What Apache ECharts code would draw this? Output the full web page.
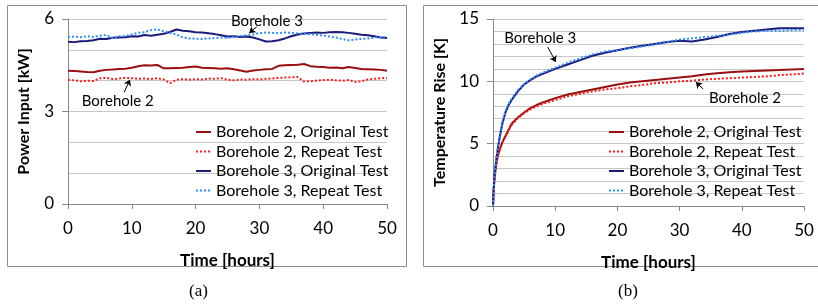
<!DOCTYPE html>
<html>
<head>
<meta charset="utf-8">
<script src="https://cdn.jsdelivr.net/npm/echarts@6/dist/echarts.min.js"></script>
<style>
html, body { margin: 0; padding: 0; background: #fff; }
#chart-container { width: 818px; height: 304px; }
</style>
</head>
<body>
<div id="chart-container"></div>
<script>
// legend names
var seriesNames = [
  'Borehole 2, Original Test', 'Borehole 2, Repeat Test',
  'Borehole 3, Original Test', 'Borehole 3, Repeat Test'
];

// (a) power input [kW], hourly readings
var hoursA = [0,1,2,3,4,5,6,7,8,9,10,11,12,13,14,15,16,17,18,19,20,21,22,23,24,25,
  26,27,28,29,30,31,32,33,34,35,36,37,38,39,40,41,42,43,44,45,46,47,48,49,50];
var bh2OrigPower = [4.32,4.31,4.30,4.28,4.27,4.32,4.35,4.36,4.38,4.39,4.42,4.47,4.50,4.49,4.51,4.40,
  4.40,4.41,4.42,4.44,4.46,4.42,4.41,4.40,4.39,4.40,4.37,4.33,4.29,4.33,4.35,4.37,4.38,4.48,4.50,4.51,
  4.52,4.54,4.47,4.45,4.44,4.42,4.43,4.40,4.44,4.41,4.38,4.37,4.36,4.35,4.32];
var bh2RepPower = [4.03,4.01,3.98,4.00,3.99,4.08,4.09,4.05,4.07,4.09,4.08,4.06,4.07,4.05,4.08,4.04,
  3.92,4.03,4.05,4.03,4.05,4.04,4.07,4.06,4.08,4.03,4.01,4.04,4.03,4.05,4.04,4.06,4.07,4.09,4.10,4.11,
  4.12,3.97,3.98,4.00,4.02,4.03,4.01,4.00,4.02,3.96,3.98,4.04,4.06,4.08,4.09];
var bh3OrigPower = [5.26,5.25,5.28,5.29,5.31,5.36,5.35,5.39,5.40,5.41,5.44,5.43,5.48,5.46,5.49,5.52,
  5.58,5.66,5.62,5.60,5.57,5.56,5.54,5.51,5.47,5.43,5.44,5.42,5.43,5.40,5.34,5.27,5.28,5.31,5.37,5.44,
  5.50,5.53,5.55,5.56,5.55,5.57,5.58,5.57,5.55,5.52,5.49,5.47,5.44,5.40,5.38];
var bh3RepPower = [5.42,5.43,5.41,5.44,5.42,5.46,5.48,5.38,5.44,5.45,5.50,5.55,5.57,5.64,5.66,5.60,
  5.55,5.50,5.40,5.37,5.36,5.35,5.37,5.38,5.40,5.39,5.42,5.45,5.47,5.50,5.54,5.56,5.55,5.54,5.56,5.55,
  5.53,5.52,5.50,5.49,5.46,5.43,5.40,5.35,5.31,5.33,5.36,5.37,5.40,5.42,5.41];

// (b) temperature rise [K]
var hoursB = [0,0.1,0.25,0.5,0.75,1,1.5,2,2.5,3,4,5,6,7,8,10,12,14,16,18,20,22,24,26,28,30,
  32,34,36,38,40,42,44,46,48,50];
var bh2OrigTemp = [0,1.2,2.3,3.3,4.0,4.4,5.1,5.6,6.1,6.6,7.1,7.5,7.85,8.1,8.3,8.65,8.95,9.15,9.35,
  9.55,9.75,9.9,10.0,10.1,10.2,10.3,10.4,10.55,10.65,10.72,10.78,10.83,10.87,10.9,10.95,10.98];
var bh2RepTemp = [0,1.1,2.2,3.2,3.9,4.4,5.1,5.6,6.1,6.5,7.05,7.45,7.75,8.0,8.2,8.5,8.8,9.0,9.2,
  9.35,9.45,9.6,9.7,9.85,9.9,10.0,10.05,10.15,10.2,10.25,10.3,10.35,10.4,10.5,10.55,10.62];
var bh3OrigTemp = [0,1.3,2.5,3.6,4.5,5.3,6.6,7.5,8.1,8.5,9.2,9.75,10.1,10.4,10.6,11.0,11.35,11.7,
  12.05,12.3,12.5,12.7,12.85,13.0,13.15,13.25,13.2,13.35,13.55,13.8,13.95,14.05,14.15,14.25,14.25,14.25];
var bh3RepTemp = [0,1.2,2.4,3.6,4.6,5.4,6.7,7.6,8.2,8.6,9.3,9.8,10.15,10.45,10.7,11.1,11.5,11.85,
  12.15,12.4,12.5,12.65,12.8,12.95,13.15,13.35,13.45,13.55,13.65,13.75,13.9,14.0,14.05,14.05,14.1,14.15];

function pairs(xs, ys) {
  return xs.map(function (x, i) { return [x, ys[i]]; });
}

var FONT = 'Lato';
var lineStyles = [
  { color: '#990f0f', width: 2, type: 'solid' },
  { color: '#ff1a1a', width: 2, type: [2, 2] },
  { color: '#1a1a78', width: 2, type: 'solid' },
  { color: '#2f8cff', width: 2, type: [2, 2] }
];

function makeSeries(idx, gridIndex, data) {
  return {
    name: seriesNames[idx],
    type: 'line',
    xAxisIndex: gridIndex,
    yAxisIndex: gridIndex,
    symbol: 'none',
    z: idx % 2 === 0 ? 3 : 4,
    lineStyle: lineStyles[idx],
    itemStyle: { color: lineStyles[idx].color },
    data: data
  };
}

function note(text, at, from, to) {
  return {
    markPoint: {
      silent: true,
      symbol: 'circle',
      symbolSize: 0,
      label: { show: true, position: 'inside', formatter: text, color: '#000', fontSize: 15, fontFamily: FONT },
      data: [{ coord: at }]
    },
    markLine: {
      silent: true,
      symbol: ['none', 'arrow'],
      symbolSize: 6,
      label: { show: false },
      lineStyle: { color: '#000', width: 1, type: 'solid' },
      data: [[{ coord: from }, { coord: to }]]
    }
  };
}

function xAxisCfg(gridIndex) {
  return {
    gridIndex: gridIndex,
    type: 'value',
    min: 0, max: 50, interval: 10,
    name: 'Time [hours]',
    nameLocation: 'middle',
    nameGap: 48,
    nameTextStyle: { fontFamily: FONT, fontWeight: 'bold', fontSize: 17, color: '#000' },
    axisLine: { show: true, lineStyle: { color: '#888', width: 1 } },
    axisTick: { show: true, length: 5, lineStyle: { color: '#888' } },
    axisLabel: { fontFamily: FONT, fontSize: 17, color: '#000', margin: 16 },
    splitLine: { show: false }
  };
}

function yAxisCfg(gridIndex, max, step, name, gap) {
  return {
    gridIndex: gridIndex,
    type: 'value',
    min: 0, max: max, interval: step,
    name: name,
    nameLocation: 'middle',
    nameGap: gap,
    nameTextStyle: { fontFamily: FONT, fontWeight: 'bold', fontSize: 16, color: '#000' },
    axisLine: { show: true, lineStyle: { color: '#888', width: 1 } },
    axisTick: { show: true, length: 6, lineStyle: { color: '#888' } },
    axisLabel: { fontFamily: FONT, fontSize: 17, color: '#000', margin: 14 },
    splitLine: { show: true, lineStyle: { color: '#c8c8c8', width: 1 } },
    minorTick: { show: false, splitNumber: step },
    minorSplitLine: { show: true, lineStyle: { color: '#c8c8c8', width: 1 } }
  };
}

var legendBase = {
  orient: 'vertical',
  itemWidth: 15,
  itemHeight: 10,
  itemGap: 3.5,
  itemStyle: { opacity: 0 },
  textStyle: { fontFamily: FONT, fontSize: 16, color: '#000' },
  data: seriesNames
};

var s = [];
s.push(makeSeries(0, 0, pairs(hoursA, bh2OrigPower)));
Object.assign(s[0], note('Borehole 2', [7.8, 3.34], [8.8, 3.62], [9.7, 4.03]));
s.push(makeSeries(1, 0, pairs(hoursA, bh2RepPower)));
s.push(makeSeries(2, 0, pairs(hoursA, bh3OrigPower)));
Object.assign(s[2], note('Borehole 3', [31.2, 5.93], [29.6, 5.75], [28.4, 5.55]));
s.push(makeSeries(3, 0, pairs(hoursA, bh3RepPower)));
s.push(makeSeries(0, 1, pairs(hoursB, bh2OrigTemp)));
Object.assign(s[4], note('Borehole 2', [40.5, 8.66], [33.8, 9.38], [32.6, 9.94]));
s.push(makeSeries(1, 1, pairs(hoursB, bh2RepTemp)));
s.push(makeSeries(2, 1, pairs(hoursB, bh3OrigTemp)));
Object.assign(s[6], note('Borehole 3', [7.6, 13.47], [8.8, 12.75], [10.1, 11.55]));
s.push(makeSeries(3, 1, pairs(hoursB, bh3RepTemp)));

var myChart = echarts.init(document.getElementById('chart-container'));
var option = {
  animation: false,
  backgroundColor: '#fff',
  grid: [
    { left: 68, right: 431, top: 19, bottom: 100 },
    { left: 493, right: 14, top: 19, bottom: 98 }
  ],
  xAxis: [xAxisCfg(0), xAxisCfg(1)],
  yAxis: [
    yAxisCfg(0, 6, 3, 'Power Input [kW]', 36),
    yAxisCfg(1, 15, 5, 'Temperature Rise [K]', 45)
  ],
  legend: [
    Object.assign({ left: 190, top: 119 }, legendBase),
    Object.assign({ left: 603, top: 119 }, legendBase)
  ],
  graphic: [
    { type: 'rect', shape: { x: 7.5, y: 5.5, width: 399, height: 261 }, style: { fill: 'none', stroke: '#8c8c8c', lineWidth: 1 }, silent: true },
    { type: 'rect', shape: { x: 423.5, y: 5.5, width: 400, height: 261 }, style: { fill: 'none', stroke: '#8c8c8c', lineWidth: 1 }, silent: true },
    { type: 'text', left: 189, top: 283, style: { text: '(a)', font: '17px "Liberation Serif"', fill: '#000' } },
    { type: 'text', left: 618, top: 283, style: { text: '(b)', font: '17px "Liberation Serif"', fill: '#000' } }
  ],
  series: s
};
myChart.setOption(option);
</script>
</body>
</html>
